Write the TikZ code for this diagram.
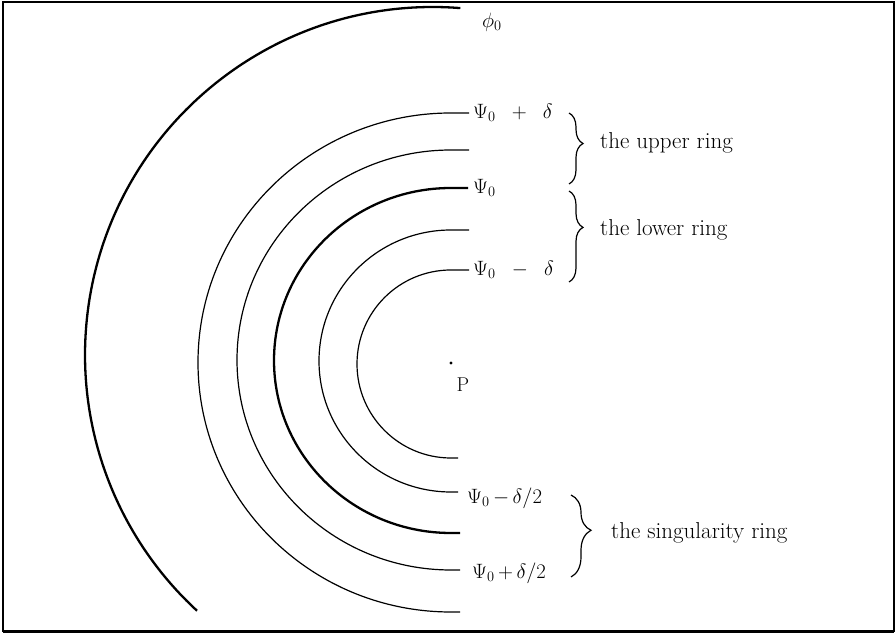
\documentclass[tikz,border=0pt]{standalone}
\usetikzlibrary{decorations.pathreplacing}
\begin{document}
\begin{tikzpicture}[x=1pt,y=1pt,
  thin ring/.style={line width=1.2pt},
  thick ring/.style={line width=2.3pt},
  ringbrace/.style={decorate,line width=1.2pt,decoration={brace,amplitude=#1}},
  lbl/.style={anchor=west,inner sep=0pt,font=\fontsize{20}{22}\selectfont},
  ringlbl/.style={anchor=west,inner sep=0pt,font=\fontsize{23}{26}\selectfont}]
\useasboundingbox (0,0) rectangle (896,636);
% frame
\draw[line width=1.2pt] (3,4) -- (3,634) -- (894,634) -- (894,4);
\draw[line width=3pt] (3,4) -- (894,4);
% outer arc phi_0
\draw[thick ring] (460.3,627.9) arc[start angle=85.5, end angle=227.3, radius=348];
% rings
\draw[thin ring] (469,523) -- (451,523) arc[start angle=90, end angle=270, x radius=253, y radius=249.5] -- (460,24);
\draw[thin ring] (469,486) -- (451,486) arc[start angle=90, end angle=270, x radius=214, y radius=210] -- (460,66);
\draw[thick ring] (468,448) -- (451,448) arc[start angle=90, end angle=270, x radius=177, y radius=172.5] -- (460,103);
\draw[thin ring] (469,406) -- (451,406) arc[start angle=90, end angle=270, x radius=132, y radius=131] -- (458,144);
\draw[thin ring] (469,366) -- (451,366) arc[start angle=90, end angle=270, x radius=94, y radius=94] -- (458,178);
% centre P
\fill (451,273) circle (1.7);
\node[inner sep=0pt,font=\fontsize{20}{22}\selectfont] (P) at (463,251) {P};
% labels
\node[lbl] (phi) at (482,614) {$\phi_0$};
\node[lbl] (pp) at (473,523) {$\Psi_0\;\;+\;\;\delta$};
\node[lbl] (p0) at (473,448) {$\Psi_0$};
\node[lbl] (pm) at (473,366) {$\Psi_0\;\;-\;\;\delta$};
\node[lbl] (pmh) at (467,138) {$\Psi_0\,\mathord{-}\,\delta/2$};
\node[lbl] (pph) at (472,63) {$\Psi_0\,\mathord{+}\,\delta/2$};
% braces
\coordinate (ub1) at (569,523); \coordinate (ub2) at (569,452);
\coordinate (lb1) at (569,445); \coordinate (lb2) at (569,354);
\coordinate (sb1) at (571,141); \coordinate (sb2) at (571,59);
\draw[ringbrace=14,decoration={aspect=0.43}] (ub1) -- (ub2);
\draw[ringbrace=14,decoration={aspect=0.4}] (lb1) -- (lb2);
\draw[ringbrace=20,decoration={aspect=0.43}] (sb1) -- (sb2);
\node[ringlbl] (upper) at (600,493) {the upper ring};
\node[ringlbl] (lower) at (600,406) {the lower ring};
\node[ringlbl] (sing) at (611,103) {the singularity ring};
\end{tikzpicture}
\end{document}
